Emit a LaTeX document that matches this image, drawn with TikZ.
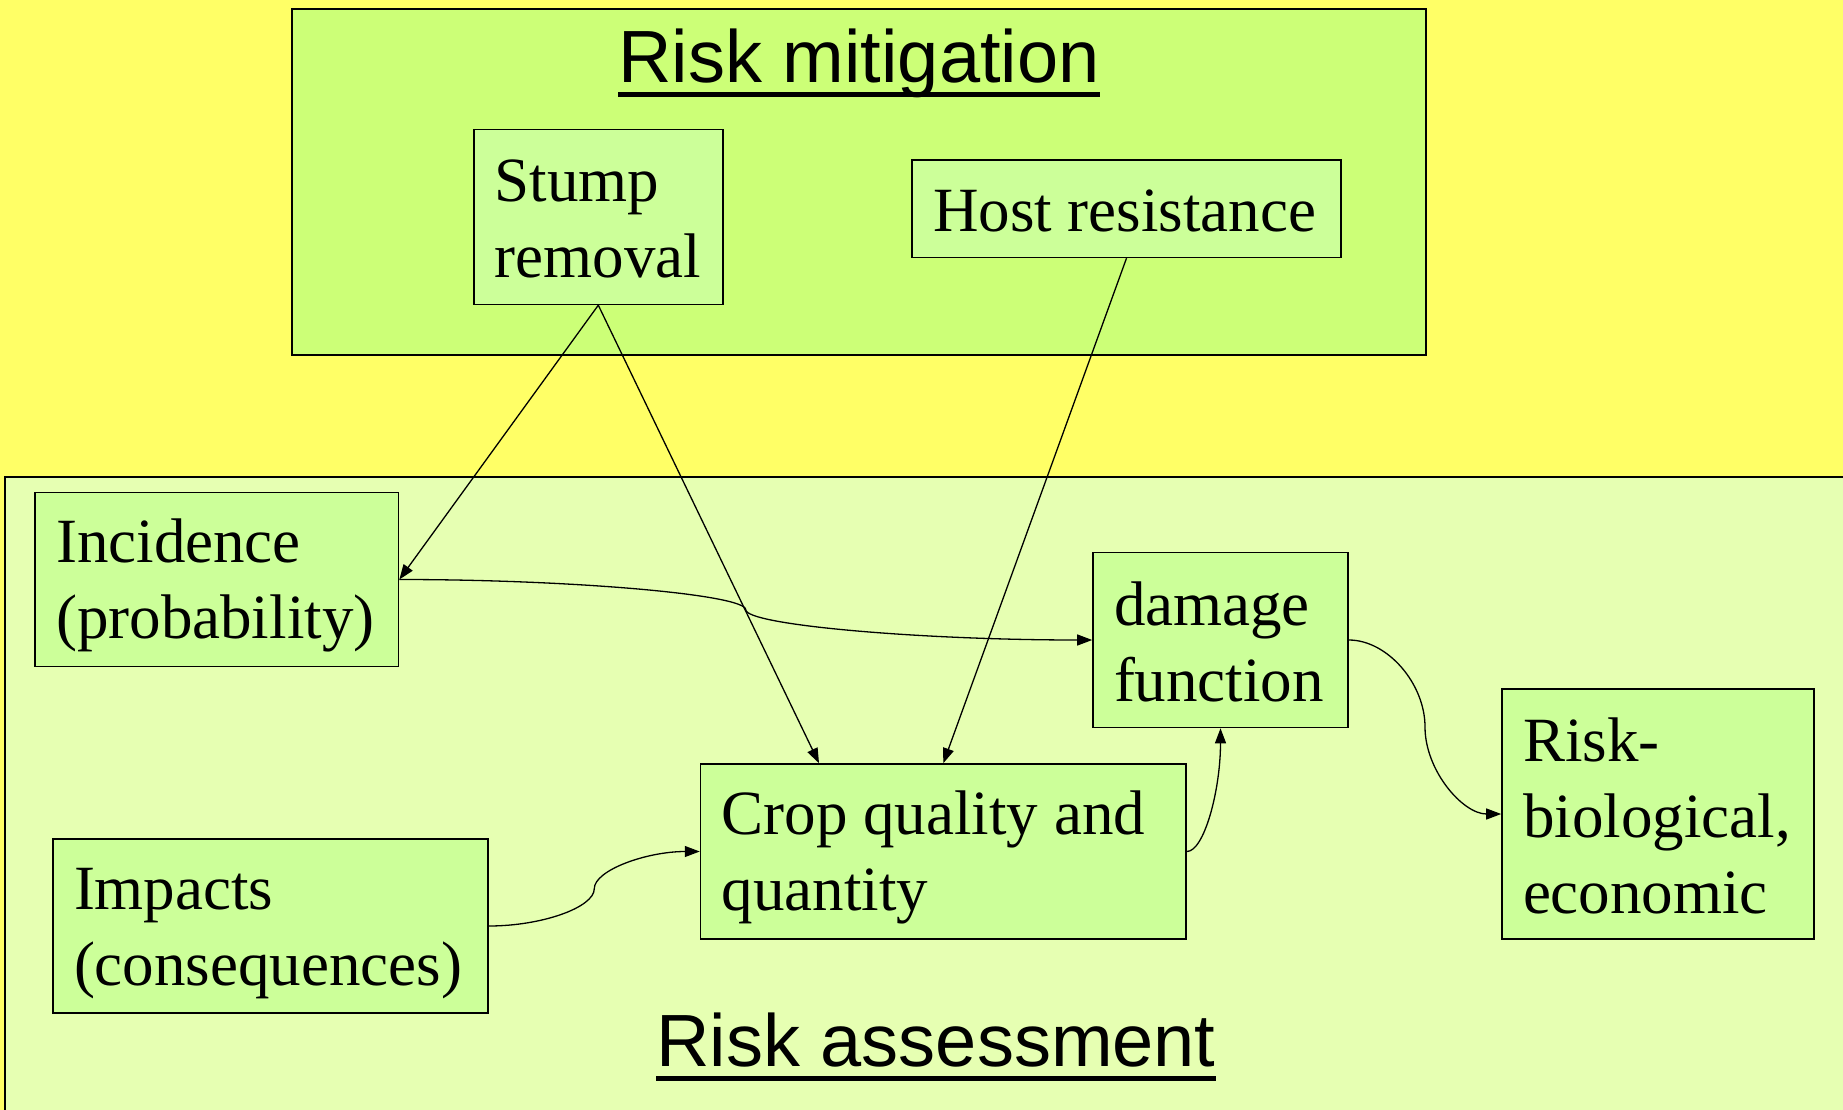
\documentclass[tikz,border=0pt]{standalone}
\usepackage{fontspec}
\setmainfont{Liberation Serif}
\newfontfamily\headfont{Liberation Sans}
\usepackage{tikz}
\usepackage{xcolor}
\usetikzlibrary{arrows.meta,calc}
\definecolor{bgyellow}{RGB}{255,255,102}
\definecolor{mitfill}{RGB}{204,255,119}
\definecolor{assfill}{RGB}{230,255,178}
\definecolor{boxfill}{RGB}{204,255,153}
\newcommand\boxstrut{\rule[-10pt]{0pt}{66pt}}

\begin{document}
\begin{tikzpicture}[x=1pt,y=1pt,>={Triangle[length=15pt,width=11pt]},
    box/.style={draw,line width=1.6pt,fill=boxfill,inner xsep=21pt,inner ysep=0pt,align=flush left,
        font=\fontsize{63}{76}\selectfont,execute at begin node=\boxstrut,execute at end node=\boxstrut},
    head/.style={inner sep=0pt,anchor=base,font=\headfont\fontsize{74}{88}\selectfont},
    link/.style={->,line width=1.3pt}]
    \useasboundingbox (0,0) rectangle (1843,-1110);
    \clip (0,0) rectangle (1843,-1110);
    \fill[bgyellow] (0,0) rectangle (1843,-1110);
    \draw[line width=2pt,fill=mitfill] (291.5,-9.4) rectangle (1425.8,-355);
    \draw[line width=2pt,fill=assfill] (5,-477) rectangle (1860,-1130);
    \node[head] (mtitle) at (859,-83) {Risk mitigation};
    \draw[line width=5pt] ([yshift=-12pt]mtitle.base west) -- ([yshift=-12pt]mtitle.base east);
    \node[head] (atitle) at (936,-1066) {Risk assessment};
    \draw[line width=5pt] ([yshift=-12pt]atitle.base west) -- ([yshift=-12pt]atitle.base east);
    \node[box,text width=207.2pt,minimum height=175pt] (stump) at (598.3,-216.9) {Stump\\removal};
    \node[box,text width=387pt,minimum height=97.4pt] (host) at (1126.5,-208.7) {Host resistance};
    \node[box,text width=321.5pt,minimum height=174pt] (incid) at (216.8,-579.5) {Incidence\\(probability)};
    \node[box,text width=213pt,minimum height=175pt] (dmg) at (1220.5,-640) {damage\\function};
    \node[box,text width=443.5pt,minimum height=175pt] (crop) at (943.3,-851.5) {Crop quality and\\quantity};
    \node[box,text width=393pt,minimum height=174pt] (impacts) at (270.5,-926) {Impacts\\(consequences)};
    \node[box,text width=270pt,minimum height=250pt] (riskbio) at (1658,-814) {Risk-\\biological,\\economic};
    \coordinate (m1) at ($(incid.east)!0.5!(dmg.west)$);
    \coordinate (m2) at ($(impacts.east)!0.5!(crop.west)$);
    \coordinate (m3) at ($(dmg.east)!0.5!(riskbio.west)$);
    \draw[link] (stump.south) -- (incid.east);
    \draw[link] (stump.south) -- ([xshift=-124.3pt]crop.north);
    \draw[link] (host.south) -- (crop.north);
    \draw[link] (incid.east) .. controls +(173.6,0) and +(0,15.1) .. (m1)
        .. controls +(0,-15.1) and +(-173.6,0) .. (dmg.west);
    \draw[link] (impacts.east) .. controls +(53.1,0) and +(0,-18.6) .. (m2)
        .. controls +(0,18.6) and +(-53.1,0) .. (crop.west);
    \draw[link] (crop.east) .. controls +(17.25,0) and +(0,-61.95) .. (dmg.south);
    \draw[link] (dmg.east) .. controls +(38.5,0) and +(0,43.5) .. (m3)
        .. controls +(0,-43.5) and +(-38.5,0) .. (riskbio.west);
\end{tikzpicture}
\end{document}
